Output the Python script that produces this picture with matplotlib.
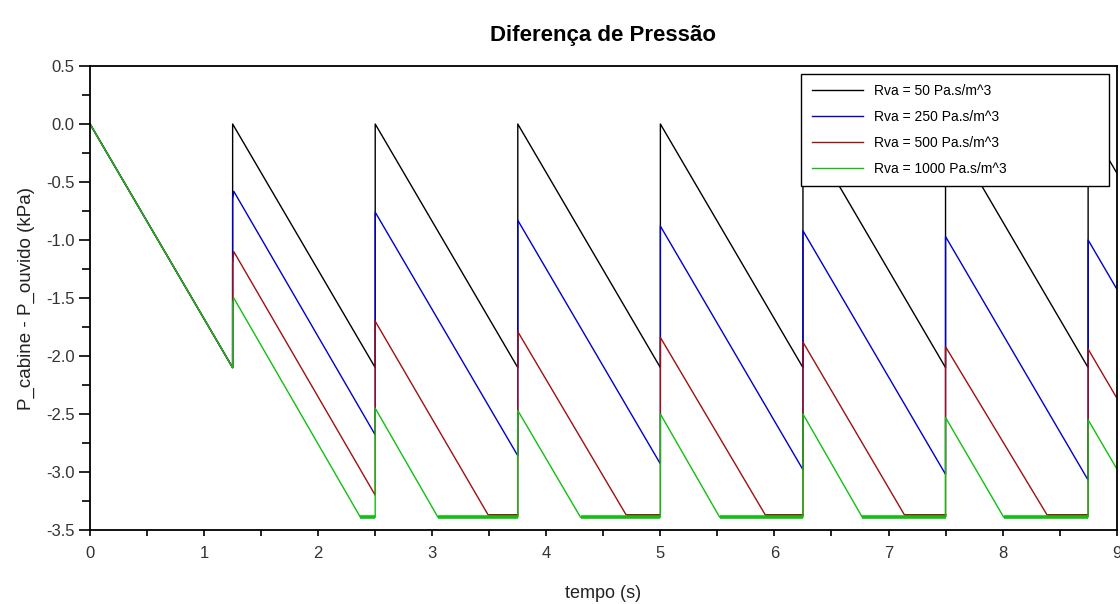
import matplotlib
matplotlib.use("Agg")
import matplotlib.pyplot as plt
from matplotlib.ticker import MultipleLocator, FormatStrFormatter

plt.rcParams['font.family'] = ['Liberation Sans', 'DejaVu Sans']

# ---- data (vertices of each piecewise-linear curve) ----
t_black = [0, 1.25, 1.25, 2.5, 2.5, 3.75, 3.75, 5, 5, 6.25, 6.25, 7.5, 7.5, 8.75, 8.75, 9]
p_black = [0, -2.1, 0.0, -2.1, 0.0, -2.1, 0.0, -2.1, 0.0, -2.1, 0.0, -2.1, 0.0, -2.1, 0.0, -0.42]

t_blue = [0, 1.25, 1.25, 1.26, 2.5, 2.5, 3.75, 3.75, 5, 5, 6.25, 6.25, 7.5, 7.5, 8.75, 8.75, 9]
p_blue = [0, -2.1, -0.65, -0.58, -2.68, -0.76, -2.86, -0.83, -2.93, -0.88, -2.98, -0.92, -3.02, -0.97, -3.07, -1.0, -1.42]

t_red = [0, 1.25, 1.25, 1.26, 2.5, 2.5, 3.49, 3.75, 3.75, 4.70, 5, 5, 5.92, 6.25, 6.25, 7.14, 7.5, 7.5, 8.39, 8.75, 8.75, 9]
p_red = [0, -2.1, -1.2, -1.1, -3.2, -1.7, -3.37, -3.37, -1.79, -3.37, -3.37, -1.84, -3.37, -3.37, -1.88, -3.37, -3.37, -1.92, -3.37, -3.37, -1.94, -2.36]

t_green = [0, 1.25, 1.25, 1.26, 2.37, 2.5, 2.5, 3.05, 3.75, 3.75, 4.30, 5, 5, 5.52, 6.25, 6.25, 6.77, 7.5, 7.5, 8.01, 8.75, 8.75, 9]
p_green = [0, -2.1, -1.55, -1.5, -3.39, -3.39, -2.45, -3.39, -3.39, -2.47, -3.39, -3.39, -2.5, -3.39, -3.39, -2.5, -3.39, -3.39, -2.53, -3.39, -3.39, -2.55, -2.97]

labels = ["Rva = 50 Pa.s/m^3", "Rva = 250 Pa.s/m^3", "Rva = 500 Pa.s/m^3", "Rva = 1000 Pa.s/m^3"]
colors = ["#000000", "#0000cc", "#a01010", "#10c010"]

series = [(t_black, p_black), (t_blue, p_blue), (t_red, p_red), (t_green, p_green)]
floor_level = {2: -3.37, 3: -3.39}

fig = plt.figure(figsize=(11.2, 6.04), dpi=100)
ax = fig.add_axes([0.0804, 0.1225, 0.9166, 0.7682])

for i, ((t, p), lab, c) in enumerate(zip(series, labels, colors)):
    ax.plot(t, p, color=c, lw=1.0, label=lab)
    if i in floor_level:
        # saturated (floor) segments show a ripple band in the reference
        for k in range(len(t) - 1):
            if p[k] == floor_level[i] and p[k + 1] == floor_level[i]:
                ax.plot([t[k], t[k + 1]], [p[k], p[k + 1]], color=c, lw=2.6 if i == 3 else 2.0,
                        solid_capstyle='butt')

ax.set_xlim(0, 9)
ax.set_ylim(-3.5, 0.5)
ax.xaxis.set_major_locator(MultipleLocator(1))
ax.xaxis.set_minor_locator(MultipleLocator(0.5))
ax.yaxis.set_major_locator(MultipleLocator(0.5))
ax.yaxis.set_minor_locator(MultipleLocator(0.25))
ax.yaxis.set_major_formatter(FormatStrFormatter('%.1f'))
ax.tick_params(which='both', direction='out', width=1.2, labelsize=12, labelcolor='#333333')
ax.tick_params(axis='x', which='major', length=4.5, pad=7)
ax.tick_params(axis='x', which='minor', length=4)
ax.tick_params(axis='y', which='major', length=8, pad=3)
ax.tick_params(axis='y', which='minor', length=5.5)
for s in ax.spines.values():
    s.set_linewidth(1.3)

ax.set_title("Diferença de Pressão", fontsize=16, fontweight='bold', pad=18)
ax.set_xlabel("tempo (s)", fontsize=13, labelpad=17, color='#222222')
ax.set_ylabel("P_cabine - P_ouvido (kPa)", fontsize=13.5, labelpad=8, color='#222222')

leg = ax.legend(loc='upper left', bbox_to_anchor=(0.693, 0.741, 0.300, 0.242), mode='expand',
                fontsize=10, frameon=True, fancybox=False, edgecolor='black', framealpha=1,
                handlelength=3.7, borderpad=0.75, labelspacing=0.85, handletextpad=0.75,
                borderaxespad=0)
leg.get_frame().set_linewidth(1.0)

fig.savefig("out.png", dpi=100)
